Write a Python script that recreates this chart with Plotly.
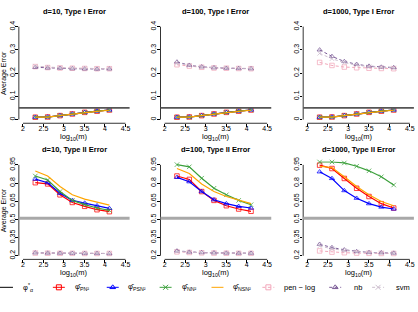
import plotly.graph_objects as go

W, H = 418, 312
FONT = "Liberation Sans, Arial, sans-serif"

# ---------------- data ----------------
X_LOG10M = [2.301, 2.602, 2.903, 3.204, 3.505, 3.806, 4.107]
XTICKS = [2, 2.5, 3, 3.5, 4, 4.5]
XTICK_LABELS = ["2", "2.5", "3", "3.5", "4", "4.5"]
T1_YTICKS = [0, 0.1, 0.2, 0.3, 0.4]
T1_YTICK_LABELS = ["0", "0.1", "0.2", "0.3", "0.4"]
T2_YTICKS = [0.2, 0.35, 0.5, 0.65, 0.8, 0.95]
T2_YTICK_LABELS = ["0.2", "0.35", "0.5", "0.65", "0.8", "0.95"]

PANEL_TITLES = ["d=10, Type I Error", "d=100, Type I Error", "d=1000, Type I Error",
                "d=10, Type II Error", "d=100, Type II Error", "d=1000, Type II Error"]

ORACLE_TYPE1 = 0.05
ORACLE_TYPE2 = 0.51

# Type I error
T1_D10_PN2 = [0.010, 0.011, 0.017, 0.024, 0.031, 0.036, 0.041]
T1_D10_PSN2 = [0.010, 0.011, 0.017, 0.024, 0.031, 0.036, 0.041]
T1_D10_NN2 = [0.010, 0.010, 0.017, 0.024, 0.030, 0.036, 0.041]
T1_D10_NSN2 = [0.010, 0.010, 0.017, 0.024, 0.030, 0.035, 0.040]
T1_D10_PENLOG = [0.228, 0.224, 0.222, 0.221, 0.220, 0.219, 0.219]
T1_D10_NB = [0.225, 0.222, 0.221, 0.219, 0.218, 0.217, 0.218]
T1_D10_SVM = [0.230, 0.225, 0.223, 0.221, 0.220, 0.219, 0.219]

T1_D100_PN2 = [0.010, 0.011, 0.017, 0.024, 0.031, 0.036, 0.041]
T1_D100_PSN2 = [0.010, 0.011, 0.017, 0.024, 0.031, 0.036, 0.041]
T1_D100_NN2 = [0.010, 0.010, 0.017, 0.024, 0.030, 0.036, 0.041]
T1_D100_NSN2 = [0.010, 0.010, 0.017, 0.024, 0.030, 0.035, 0.040]
T1_D100_PENLOG = [0.236, 0.230, 0.225, 0.222, 0.221, 0.220, 0.219]
T1_D100_NB = [0.248, 0.234, 0.227, 0.223, 0.221, 0.220, 0.219]
T1_D100_SVM = [0.242, 0.233, 0.226, 0.223, 0.222, 0.221, 0.220]

T1_D1000_PN2 = [0.010, 0.011, 0.017, 0.024, 0.031, 0.036, 0.041]
T1_D1000_PSN2 = [0.010, 0.011, 0.017, 0.024, 0.031, 0.036, 0.041]
T1_D1000_NN2 = [0.010, 0.010, 0.017, 0.024, 0.030, 0.036, 0.041]
T1_D1000_NSN2 = [0.010, 0.010, 0.017, 0.024, 0.030, 0.035, 0.040]
T1_D1000_PENLOG = [0.246, 0.233, 0.226, 0.223, 0.221, 0.220, 0.219]
T1_D1000_NB = [0.300, 0.272, 0.250, 0.238, 0.230, 0.226, 0.224]
T1_D1000_SVM = [0.285, 0.262, 0.245, 0.234, 0.228, 0.224, 0.222]

# Type II error
T2_D10_PN2 = [0.803, 0.793, 0.703, 0.640, 0.608, 0.580, 0.564]
T2_D10_PSN2 = [0.833, 0.803, 0.716, 0.657, 0.635, 0.613, 0.591]
T2_D10_NN2 = [0.858, 0.825, 0.730, 0.657, 0.622, 0.594, 0.575]
T2_D10_NSN2 = [0.899, 0.858, 0.771, 0.703, 0.667, 0.640, 0.618]
T2_D10_PENLOG = [0.222, 0.221, 0.220, 0.220, 0.219, 0.219, 0.219]
T2_D10_NB = [0.224, 0.222, 0.221, 0.220, 0.219, 0.219, 0.218]
T2_D10_SVM = [0.223, 0.222, 0.221, 0.220, 0.220, 0.219, 0.219]

T2_D100_PN2 = [0.858, 0.830, 0.730, 0.657, 0.613, 0.586, 0.567]
T2_D100_PSN2 = [0.847, 0.811, 0.730, 0.662, 0.630, 0.608, 0.594]
T2_D100_NN2 = [0.952, 0.934, 0.840, 0.757, 0.703, 0.657, 0.621]
T2_D100_NSN2 = [0.920, 0.879, 0.793, 0.730, 0.689, 0.657, 0.630]
T2_D100_PENLOG = [0.232, 0.227, 0.224, 0.222, 0.221, 0.220, 0.220]
T2_D100_NB = [0.240, 0.230, 0.226, 0.224, 0.222, 0.221, 0.221]
T2_D100_SVM = [0.236, 0.229, 0.225, 0.223, 0.222, 0.221, 0.220]

T2_D1000_PN2 = [0.948, 0.920, 0.838, 0.757, 0.689, 0.630, 0.594]
T2_D1000_PSN2 = [0.893, 0.838, 0.738, 0.675, 0.630, 0.602, 0.586]
T2_D1000_NN2 = [0.974, 0.974, 0.966, 0.939, 0.901, 0.852, 0.784]
T2_D1000_NSN2 = [0.939, 0.928, 0.852, 0.771, 0.703, 0.648, 0.613]
T2_D1000_PENLOG = [0.240, 0.230, 0.225, 0.222, 0.220, 0.219, 0.219]
T2_D1000_NB = [0.295, 0.268, 0.249, 0.235, 0.227, 0.225, 0.222]
T2_D1000_SVM = [0.280, 0.258, 0.243, 0.232, 0.226, 0.223, 0.221]

SERIES_KEYS = ["PENLOG", "NB", "SVM", "PN2", "PSN2", "NN2", "NSN2"]
PANELS = [
    dict(PN2=T1_D10_PN2, PSN2=T1_D10_PSN2, NN2=T1_D10_NN2, NSN2=T1_D10_NSN2,
         PENLOG=T1_D10_PENLOG, NB=T1_D10_NB, SVM=T1_D10_SVM),
    dict(PN2=T1_D100_PN2, PSN2=T1_D100_PSN2, NN2=T1_D100_NN2, NSN2=T1_D100_NSN2,
         PENLOG=T1_D100_PENLOG, NB=T1_D100_NB, SVM=T1_D100_SVM),
    dict(PN2=T1_D1000_PN2, PSN2=T1_D1000_PSN2, NN2=T1_D1000_NN2, NSN2=T1_D1000_NSN2,
         PENLOG=T1_D1000_PENLOG, NB=T1_D1000_NB, SVM=T1_D1000_SVM),
    dict(PN2=T2_D10_PN2, PSN2=T2_D10_PSN2, NN2=T2_D10_NN2, NSN2=T2_D10_NSN2,
         PENLOG=T2_D10_PENLOG, NB=T2_D10_NB, SVM=T2_D10_SVM),
    dict(PN2=T2_D100_PN2, PSN2=T2_D100_PSN2, NN2=T2_D100_NN2, NSN2=T2_D100_NSN2,
         PENLOG=T2_D100_PENLOG, NB=T2_D100_NB, SVM=T2_D100_SVM),
    dict(PN2=T2_D1000_PN2, PSN2=T2_D1000_PSN2, NN2=T2_D1000_NN2, NSN2=T2_D1000_NSN2,
         PENLOG=T2_D1000_PENLOG, NB=T2_D1000_NB, SVM=T2_D1000_SVM),
]

# ---------------- styles ----------------
DASH = "3px,2.5px"
STYLES = {
    "PN2": dict(color="#FF0000", symbol="square-open", dash="solid"),
    "PSN2": dict(color="#0000FF", symbol="triangle-up-open", dash="solid"),
    "NN2": dict(color="#3CA03C", symbol="x-thin-open", dash="solid"),
    "NSN2": dict(color="#FFA500", symbol=None, dash="solid"),
    "PENLOG": dict(color="#F2A7BA", symbol="square-open", dash=DASH),
    "NB": dict(color="#7A5A96", symbol="triangle-up-open", dash=DASH),
    "SVM": dict(color="#CDBFCF", symbol="x-thin-open", dash=DASH),
}
LEGEND_ORDER = ["ORACLE", "PN2", "PSN2", "NN2", "NSN2", "PENLOG", "NB", "SVM"]
LEGEND_LABELS = {
    "ORACLE": "φ<sup>*</sup><sub>α</sub>",
    "PN2": "φ̂<sub>PN²</sub>",
    "PSN2": "φ̂<sub>PSN²</sub>",
    "NN2": "φ̂<sub>NN²</sub>",
    "NSN2": "φ̂<sub>NSN²</sub>",
    "PENLOG": "pen − log",
    "NB": "nb",
    "SVM": "svm",
}
# legend layout (pixels)
LEG_LINE_X0 = [0, 53, 107, 160, 212, 263, 330, 373]
LEG_TEXT_X = [21, 73, 126, 180, 232, 283, 353, 395]
LEG_Y = 287
LEG_LEN = 12

# panel layout in pixels
COL_LEFT = [18.9, 160.9, 303.9]
COL_W = 111.0
ROW_TOP = [19.2, 159.3]
ROW_BOT = [120.8, 258.7]
T1_RANGE = [-0.016, 0.416]
T2_RANGE = [0.17, 0.98]
TITLE_Y = [7.5, 147]
XLAB_Y = [134.5, 272.5]


def px(xp):
    return xp / W


def py(yp):
    return 1 - yp / H


fig = go.Figure()
layout = dict(
    width=W, height=H, margin=dict(l=0, r=0, t=0, b=0),
    paper_bgcolor="white", plot_bgcolor="rgba(0,0,0,0)",
    showlegend=False, font=dict(family=FONT, size=7, color="black"),
)
shapes = []
annotations = []

for i, panel in enumerate(PANELS):
    r, c = divmod(i, 3)
    n = i + 1
    xa = "x" if n == 1 else f"x{n}"
    ya = "y" if n == 1 else f"y{n}"
    yticks = T1_YTICKS if r == 0 else T2_YTICKS
    ylabels = T1_YTICK_LABELS if r == 0 else T2_YTICK_LABELS
    yrange = T1_RANGE if r == 0 else T2_RANGE
    oracle = ORACLE_TYPE1 if r == 0 else ORACLE_TYPE2

    for key in SERIES_KEYS:
        st = STYLES[key]
        mode = "lines+markers" if st["symbol"] else "lines"
        marker = dict(symbol=st["symbol"], size=4.5, color=st["color"],
                      line=dict(width=1, color=st["color"]), opacity=0.75) if st["symbol"] else None
        fig.add_trace(go.Scatter(
            x=X_LOG10M, y=panel[key], mode=mode, xaxis=xa, yaxis=ya,
            line=dict(color=st["color"], width=1.2 if st["dash"] == "solid" else 1.0, dash=st["dash"]),
            marker=marker, cliponaxis=False, hoverinfo="skip"))

    layout[f"xaxis{'' if n == 1 else n}"] = dict(
        domain=[px(COL_LEFT[c]), px(COL_LEFT[c] + COL_W)], range=[1.9, 4.6],
        anchor=ya, tickmode="array", tickvals=XTICKS, ticktext=XTICK_LABELS,
        ticks="outside", ticklen=2.5, tickwidth=0.8, tickcolor="black",
        ticklabelstandoff=-4,
        showgrid=False, zeroline=False, showline=False,
        tickfont=dict(size=7, family=FONT))
    layout[f"yaxis{'' if n == 1 else n}"] = dict(
        domain=[py(ROW_BOT[r]), py(ROW_TOP[r])], range=yrange,
        anchor=xa, tickmode="array", tickvals=yticks, ticktext=ylabels,
        ticks="outside", ticklen=2.5, tickwidth=0.8, tickcolor="black", tickangle=-90,
        ticklabelstandoff=-2,
        showgrid=False, zeroline=False, showline=False,
        tickfont=dict(size=7, family=FONT))

    # R-style axis lines spanning first..last tick
    shapes.append(dict(type="line", xref=xa, yref=f"{ya} domain",
                       x0=XTICKS[0], x1=XTICKS[-1], y0=0, y1=0,
                       line=dict(color="black", width=0.8)))
    shapes.append(dict(type="line", xref=f"{xa} domain", yref=ya,
                       x0=0, x1=0, y0=yticks[0], y1=yticks[-1],
                       line=dict(color="black", width=0.8)))
    # oracle reference line
    shapes.append(dict(type="line", xref=f"{xa} domain", yref=ya,
                       x0=0, x1=1, y0=oracle, y1=oracle,
                       line=dict(color="#555555" if r == 0 else "#A8A8A8",
                                 width=1.6 if r == 0 else 3)))

    annotations.append(dict(text=f"<b>{PANEL_TITLES[i]}</b>", xref=f"{xa} domain", yref="paper",
                            x=0.5, y=py(TITLE_Y[r]), showarrow=False,
                            font=dict(size=7.5, family=FONT), xanchor="center", yanchor="middle"))
    annotations.append(dict(text="log<sub>10</sub>(m)", xref=f"{xa} domain", yref="paper",
                            x=0.5, y=py(XLAB_Y[r]), showarrow=False,
                            font=dict(size=7.5, family=FONT), xanchor="center", yanchor="middle"))
    if c == 0:
        annotations.append(dict(text="Average Error", xref="paper", yref="paper",
                                x=px(4), y=py((ROW_TOP[r] + ROW_BOT[r]) / 2), textangle=-90,
                                showarrow=False, font=dict(size=7, family=FONT),
                                xanchor="center", yanchor="middle"))

# ---------------- legend (drawn on an overlay axis in pixel units) ----------------
layout["xaxis7"] = dict(domain=[0, 1], range=[0, W], visible=False, anchor="y7", fixedrange=True)
layout["yaxis7"] = dict(domain=[0, 1], range=[H, 0], visible=False, anchor="x7", fixedrange=True)
for j, key in enumerate(LEGEND_ORDER):
    x0 = LEG_LINE_X0[j]
    x1 = x0 + (LEG_LEN + 1 if j == 0 else LEG_LEN)
    if key == "ORACLE":
        color, dash, symbol = "black", "solid", None
    else:
        st = STYLES[key]
        color, dash, symbol = st["color"], st["dash"], st["symbol"]
    fig.add_trace(go.Scatter(
        x=[x0, x1], y=[LEG_Y] * 2, mode="lines", xaxis="x7", yaxis="y7",
        line=dict(color=color, width=1, dash=dash), cliponaxis=False, hoverinfo="skip"))
    if symbol:
        fig.add_trace(go.Scatter(
            x=[(x0 + x1) / 2], y=[LEG_Y], mode="markers", xaxis="x7", yaxis="y7",
            marker=dict(symbol=symbol, size=5, color=color, line=dict(width=1, color=color)),
            cliponaxis=False, hoverinfo="skip"))
    annotations.append(dict(text=LEGEND_LABELS[key], xref="x7", yref="y7", x=LEG_TEXT_X[j], y=LEG_Y,
                            showarrow=False, xanchor="left", yanchor="middle",
                            font=dict(size=7.5, family=FONT)))

layout["shapes"] = shapes
layout["annotations"] = annotations
fig.update_layout(**layout)
fig.write_html("out.html")
